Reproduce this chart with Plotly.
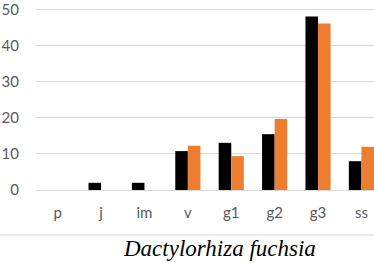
import plotly.graph_objects as go

categories = ["p", "j", "im", "v", "g1", "g2", "g3", "ss"]
series_black = [0, 2.0, 2.0, 10.8, 13.1, 15.5, 48.2, 8.0]
series_orange = [0, 0, 0, 12.3, 9.4, 19.7, 46.2, 12.0]
y_ticks = [0, 10, 20, 30, 40, 50]
title_text = "Dactylorhiza fuchsia"

fig = go.Figure()
fig.add_trace(go.Bar(x=categories, y=series_black, marker_color="#000000",
                     marker_line_width=0, name="A"))
fig.add_trace(go.Bar(x=categories, y=series_orange, marker_color="#ED7D31",
                     marker_line_width=0, name="B"))

fig.update_layout(
    width=374, height=263,
    margin=dict(l=36, r=0, t=3, b=73),
    paper_bgcolor="white", plot_bgcolor="white",
    barmode="group", bargap=0.42, bargroupgap=0,
    showlegend=False,
    font=dict(family="Lato, Open Sans, sans-serif", size=15, color="#595959"),
)
fig.update_xaxes(range=[-0.5, 7.29], showgrid=False, showline=False, zeroline=False,
                 ticks="", ticklabelstandoff=12, tickfont=dict(size=15, color="#595959"))
fig.update_yaxes(range=[0, 50.815], tickvals=y_ticks, showgrid=True, gridcolor="#d9d9d9",
                 gridwidth=1, zeroline=True, zerolinecolor="#d9d9d9", zerolinewidth=1,
                 showline=False, ticks="", ticklabelstandoff=16, ticklabeloverflow="allow",
                 tickfont=dict(size=15, color="#595959"))

fig.add_shape(type="line", xref="paper", yref="paper", x0=-0.2, x1=1.1,
              y0=(190 - 236) / 187, y1=(190 - 236) / 187, line=dict(color="#d9d9d9", width=1))
fig.add_annotation(text=title_text, xref="paper", yref="paper",
                   x=(219 - 36) / 338, y=(190 - 250) / 187, xanchor="center", yanchor="middle",
                   showarrow=False,
                   font=dict(family="Liberation Serif, Times New Roman, serif", size=23,
                             color="#000000", style="italic"))

fig.write_html("out.html", config={"displayModeBar": False},
               post_script="document.body.style.margin='0';document.body.style.overflow='hidden';")
